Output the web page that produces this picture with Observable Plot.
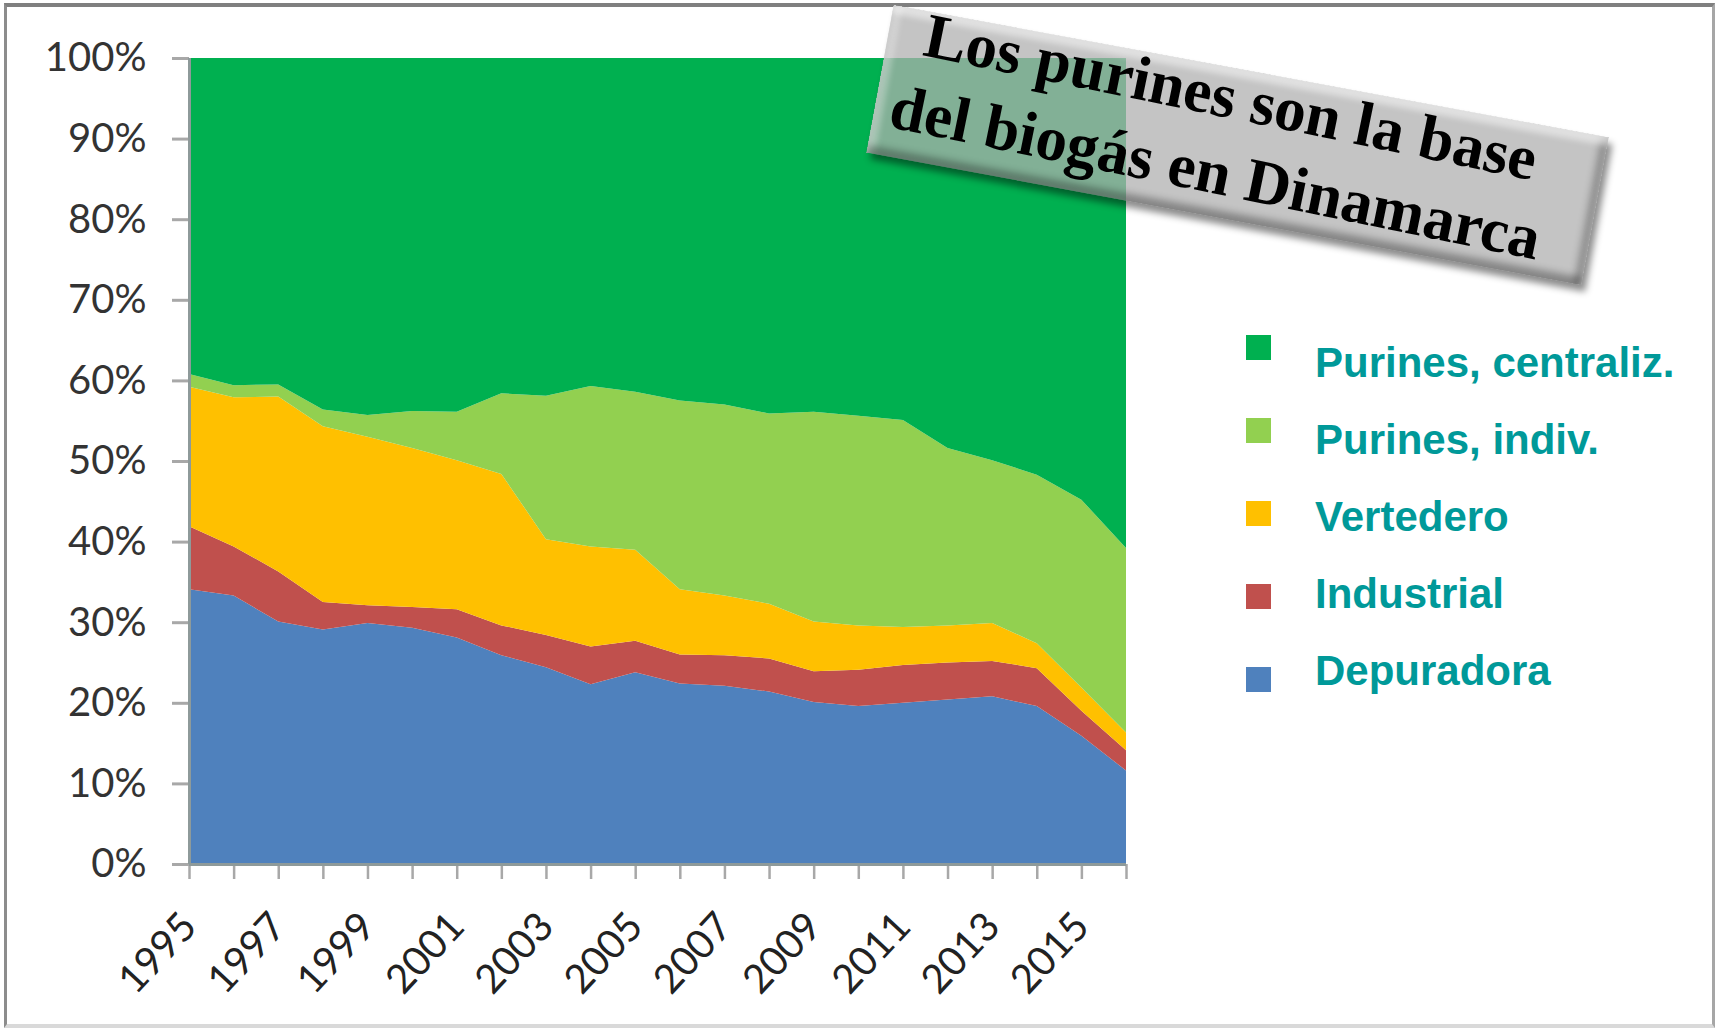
<!DOCTYPE html>
<html>
<head>
<meta charset="utf-8">
<script src="https://cdn.jsdelivr.net/npm/d3@7"></script>
<script src="https://cdn.jsdelivr.net/npm/@observablehq/plot@0.6"></script>
<style>
  html, body { margin: 0; padding: 0; background: #ffffff; width: 1721px; height: 1033px; overflow: hidden; }
  #page { position: relative; width: 1721px; height: 1033px; background: #ffffff; overflow: hidden; }
  #frame { position: absolute; left: 4px; top: 3px; width: 1711px; height: 1025px;
           border-top: 4px solid #7f7f7f; border-left: 3px solid #8c8c8c;
           border-right: 3px solid #a6a6a6; border-bottom: 4px solid #d9d9d9; box-sizing: border-box; }
  #chart { position: absolute; left: 0; top: 0; }
  #legend { position: absolute; left: 0; top: 0; }
  .sw { position: absolute; width: 25px; height: 25px; }
  .lt { position: absolute; font-family: "Liberation Sans", Arial, sans-serif; font-weight: bold;
        font-size: 42px; color: #009999; white-space: nowrap; line-height: 1; }
  #title { position: absolute; left: 874px; top: 70px; width: 727px; height: 150px;
           transform: rotate(10.5deg); transform-origin: 50% 50%;
           background: rgba(176,176,176,0.74);
           box-shadow: inset 0 8px 6px rgba(255,255,255,0.55), inset 0 -8px 7px rgba(0,0,0,0.28),
                       inset 8px 0 6px rgba(255,255,255,0.35), inset -8px 0 7px rgba(0,0,0,0.25),
                       5px 6px 7px rgba(0,0,0,0.45); }
  #titleText { position: absolute; left: 0; top: 0; width: 695px; height: 150px;
           transform: rotate(1.1deg); transform-origin: 50% 50%; }
  .tl { position: absolute; left: 347.5px; height: 50px; transform: translateX(-50%);
        font-family: "Liberation Serif", "Times New Roman", serif; font-weight: bold;
        font-size: 63px; line-height: 50px; color: #000; white-space: nowrap; }
</style>
</head>
<body>
<div id="page">
  <div id="frame"></div>
  <div id="chart"></div>
  <div id="legend"></div>
  <div id="title"><div id="titleText">
    <div class="tl" style="top:4px">Los purines son la base</div>
    <div class="tl" style="top:81px">del biogás en Dinamarca</div>
  </div></div>
</div>
<script>
// ---- data (percent share of biogas production) ----
const years = [1995, 1996, 1997, 1998, 1999, 2000, 2001, 2002, 2003, 2004, 2005,
               2006, 2007, 2008, 2009, 2010, 2011, 2012, 2013, 2014, 2015, 2016];
const depuradora = [34.1, 33.3, 30.1, 29.1, 29.9, 29.3, 28.1, 25.9, 24.4, 22.3, 23.8,
                    22.4, 22.1, 21.4, 20.1, 19.6, 20.0, 20.4, 20.8, 19.6, 15.9, 11.6];
const industrial = [7.8, 6.1, 6.2, 3.4, 2.2, 2.6, 3.5, 3.7, 4.0, 4.7, 3.9,
                    3.6, 3.8, 4.1, 3.8, 4.5, 4.7, 4.6, 4.4, 4.7, 3.1, 2.5];
const vertedero = [17.3, 18.5, 21.7, 21.8, 20.9, 19.7, 18.5, 18.8, 11.9, 12.4, 11.3,
                   8.1, 7.4, 6.8, 6.2, 5.5, 4.7, 4.6, 4.7, 3.1, 2.9, 2.2];
const purinesIndiv = [1.6, 1.5, 1.5, 2.1, 2.7, 4.6, 6.0, 10.0, 17.8, 19.9, 19.6,
                      23.4, 23.7, 23.6, 26.0, 26.0, 25.7, 22.0, 20.2, 20.9, 23.3, 22.9];
const purinesCentraliz = [39.2, 40.6, 40.5, 43.6, 44.3, 43.8, 43.9, 41.6, 41.9, 40.7, 41.4,
                          42.5, 43.0, 44.1, 43.9, 44.4, 44.9, 48.4, 49.9, 51.7, 54.8, 60.8];
// stacking order bottom -> top
const seriesNames = ["Depuradora", "Industrial", "Vertedero", "Purines, indiv.", "Purines, centraliz."];
const seriesColors = ["#4F81BD", "#C0504D", "#FFC000", "#92D050", "#00B050"];
const yTicks = [0, 10, 20, 30, 40, 50, 60, 70, 80, 90, 100];
const xLabelYears = [1995, 1997, 1999, 2001, 2003, 2005, 2007, 2009, 2011, 2013, 2015];
// legend order (top -> bottom)
const legendNames = ["Purines, centraliz.", "Purines, indiv.", "Vertedero", "Industrial", "Depuradora"];

// ---- long table ----
const seriesValues = [depuradora, industrial, vertedero, purinesIndiv, purinesCentraliz];
const table = [];
seriesNames.forEach((name, i) => {
  years.forEach((yr, j) => table.push({year: yr, series: name, value: seriesValues[i][j]}));
});

const chart = Plot.plot({
  width: 1140,
  height: 1010,
  marginLeft: 189,
  marginRight: 14,
  marginTop: 58,
  marginBottom: 146,
  style: {fontFamily: "Lato, sans-serif", fontSize: "40px", color: "#333333", background: "transparent", overflow: "visible"},
  x: {type: "linear", domain: [1995, 2016]},
  y: {domain: [0, 100]},
  color: {domain: seriesNames, range: seriesColors},
  marks: [
    Plot.areaY(table, {x: "year", y: "value", fill: "series", order: seriesNames, curve: "linear"}),
    Plot.axisY({ticks: yTicks, tickFormat: d => d + "%", tickSize: 17, tickPadding: 26,
                stroke: "#a8a8a8", strokeWidth: 3, fill: "#333333", label: null}),
    Plot.axisX({ticks: years, tickFormat: d => (xLabelYears.includes(d) ? String(d) : ""),
                tickSize: 15, tickPadding: 40, tickRotate: -47,
                stroke: "#a8a8a8", strokeWidth: 2.5, fill: "#222222", label: null}),
    Plot.ruleX([1995], {stroke: "#8e9a9a", strokeWidth: 3}),
    Plot.ruleY([0], {stroke: "#8e9a9a", strokeWidth: 3})
  ]
});
document.getElementById("chart").appendChild(chart);

// ---- legend ----
const legend = document.getElementById("legend");
legendNames.forEach((name, i) => {
  const sw = document.createElement("div");
  sw.className = "sw";
  sw.style.left = "1246px";
  sw.style.top = (335 + i * 83) + "px";
  sw.style.background = seriesColors[seriesNames.indexOf(name)];
  legend.appendChild(sw);
  const t = document.createElement("div");
  t.className = "lt";
  t.style.left = "1315px";
  t.style.top = (350 - 8 + i * 77) + "px";
  t.textContent = name;
  legend.appendChild(t);
});
</script>
</body>
</html>
